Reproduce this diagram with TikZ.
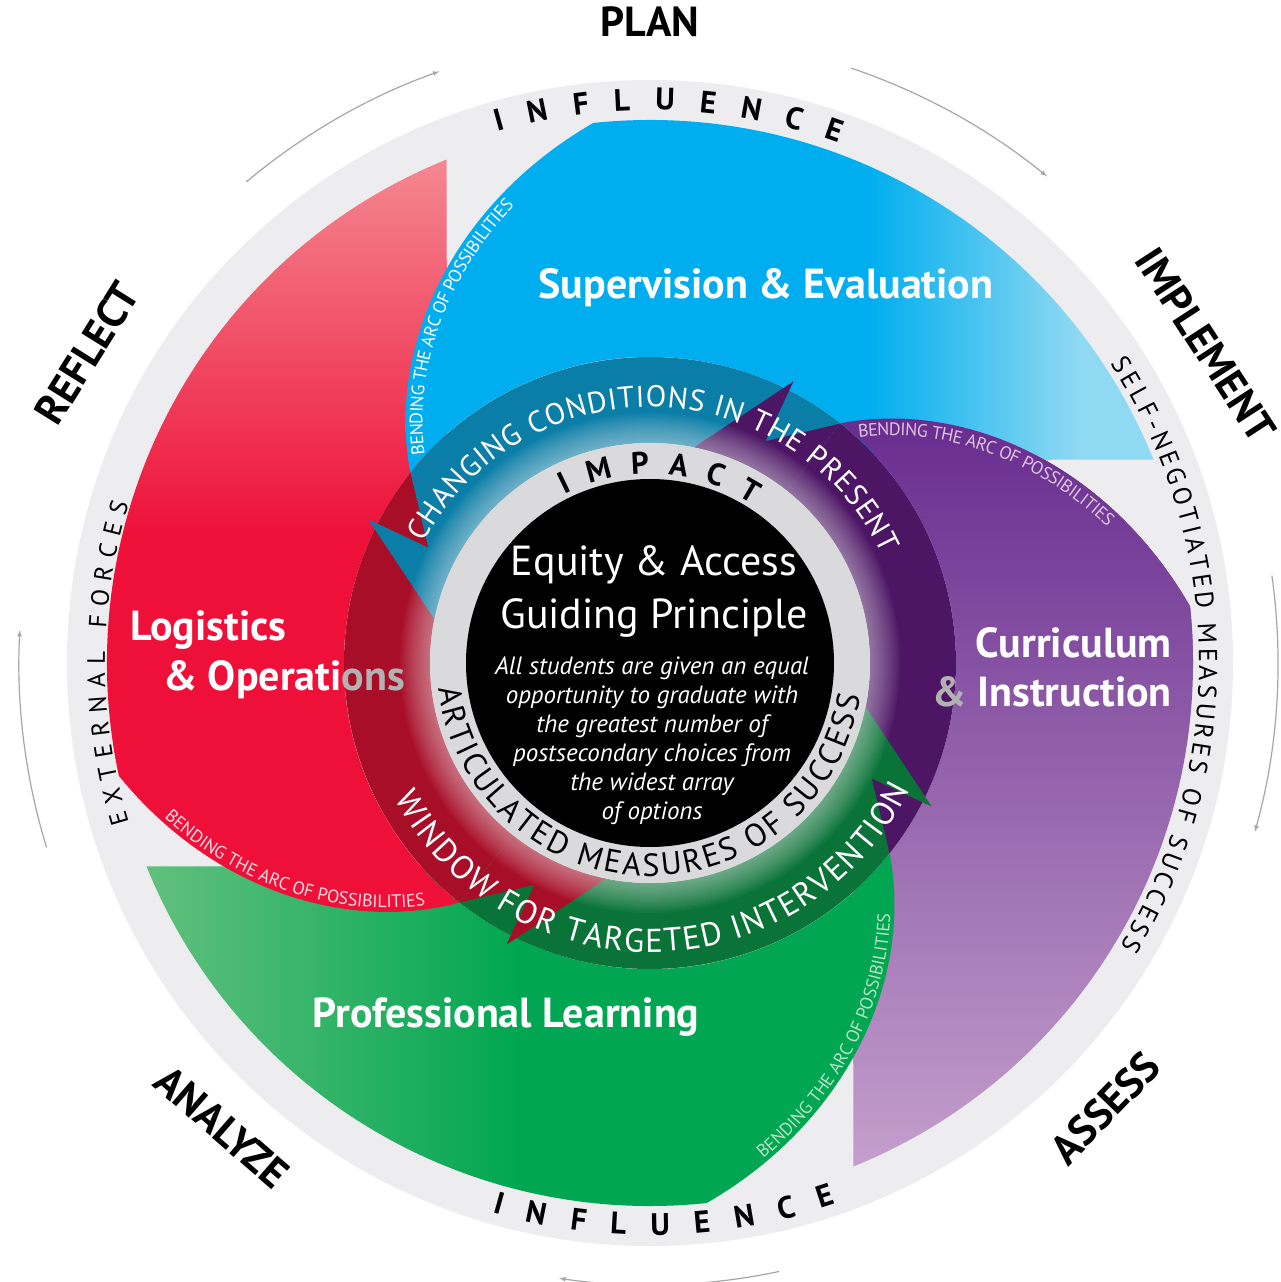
\documentclass[tikz,border=0pt]{standalone}
\usepackage{fontspec}
\setmainfont{PT Sans}
\usetikzlibrary{decorations.text}

\definecolor{ringgray}{HTML}{EDEDEF}
\definecolor{centergray}{HTML}{DADADC}
\definecolor{arrowgray}{HTML}{A6A6A6}
\definecolor{bluemain}{HTML}{00AEEF}
\definecolor{bluelight}{HTML}{90D9F2}
\definecolor{bluedark}{HTML}{0B7EA8}
\definecolor{redmain}{HTML}{EE1039}
\definecolor{redlight}{HTML}{F48891}
\definecolor{reddark}{HTML}{A80E27}
\definecolor{greenmain}{HTML}{00A651}
\definecolor{greenlight}{HTML}{62C07E}
\definecolor{greendark}{HTML}{0A7438}
\definecolor{purplemain}{HTML}{682C8F}
\definecolor{purplelight}{HTML}{C49FCC}
\definecolor{purpledark}{HTML}{4C1665}

\pgfdeclarehorizontalshading{bluefade}{100bp}{color(0bp)=(bluemain); color(56bp)=(bluemain); color(70bp)=(bluelight); color(100bp)=(bluelight)}

\newcommand{\bendfont}{\fontsize{18}{18}\selectfont}

\tikzset{
  phase/.style={font=\fontsize{42}{42}\selectfont\bfseries, inner sep=0pt},
  area/.style={text=white, font=\fontsize{42}{42}\selectfont\bfseries, inner sep=0pt},
  headline/.style={text=white, font=\fontsize{42}{42}\selectfont, inner sep=0pt},
  motto/.style={text=white, font=\fontsize{25}{29}\selectfont\itshape, align=center, inner sep=0pt},
  loop arrow/.style={arrowgray, line width=1.2pt, ->},
}

\begin{document}
\begin{tikzpicture}[x=1pt,y=1pt,>=latex,
  declare function={arcr(\t)=543-4.2*\t-0.022*\t*\t;}]
\fill[white] (-650,-619) rectangle (630,663);
\useasboundingbox (-650,-619) rectangle (630,663);

% light disc behind everything
\fill[ringgray] (0,0) circle[radius=583pt];

% the four areas (purple, green, red, blue)
\shade[top color=purplemain, bottom color=purplelight] (292:543) arc[start angle=292, end angle=366, radius=543pt]
  -- plot[variable=\t, domain=0:45.5, samples=30, smooth] ({366+\t}:{arcr(\t)})
  arc[start angle=51.5, end angle=-48.5, radius=306pt] -- cycle;
\shade[left color=greenlight, right color=greenmain, middle color=greenmain] (202:543) arc[start angle=202, end angle=276, radius=543pt]
  -- plot[variable=\t, domain=0:45.5, samples=30, smooth] ({276+\t}:{arcr(\t)})
  arc[start angle=321.5, end angle=221.5, radius=306pt] -- cycle;
\shade[top color=redlight, bottom color=redmain, middle color=redmain] (112:543) arc[start angle=112, end angle=192, radius=543pt]
  -- plot[variable=\t, domain=0:45.5, samples=30, smooth] ({192+\t*39.5/45.5}:{arcr(\t)})
  arc[start angle=231.5, end angle=131.5, radius=306pt] -- cycle;
\shade[shading=bluefade] (22:543) arc[start angle=22, end angle=96, radius=543pt]
  -- plot[variable=\t, domain=0:45.5, samples=30, smooth] ({96+\t}:{arcr(\t)})
  arc[start angle=141.5, end angle=41.5, radius=306pt] -- cycle;
% purple lies over blue on the upper side
\begin{scope}
\clip (-650,0) rectangle (630,663);
\shade[top color=purplemain, bottom color=purplelight] (292:543) arc[start angle=292, end angle=366, radius=543pt]
  -- plot[variable=\t, domain=0:45.5, samples=30, smooth] ({366+\t}:{arcr(\t)})
  arc[start angle=51.5, end angle=-48.5, radius=306pt] -- cycle;
\end{scope}

% middle ring: bodies, then the barbed heads
\foreach \c/\a in {bluedark/152.5, reddark/242.5, greendark/332.5, purpledark/62.5}
  \fill[\c] ({\a-101}:220) arc[start angle=\a-101, end angle=\a-11, radius=220pt]
    -- ({\a-11}:306) arc[start angle=\a-11, end angle=\a-101, radius=306pt] -- cycle;
\foreach \c/\a in {bluedark/152.5, reddark/242.5, greendark/332.5, purpledark/62.5}
  \fill[\c] ({\a-11}:306) -- (\a:250) -- ({\a+0.5}:316) -- ({\a+16}:220)
    arc[start angle=\a+16, end angle=\a-11, radius=220pt] -- cycle;

% glow and centre
\foreach \r in {250,248,...,222}
  \fill[white, opacity=0.035] (0,0) circle[radius=\r pt];
\fill[centergray] (0,0) circle[radius=220pt];
\fill[black] (0,0) circle[radius=184pt];

\node[headline] (equity) at (4,98) {Equity \& Access};
\node[headline] (guiding) at (4,45) {Guiding Principle};
\node[motto] (principle) at (2,-78) {All students are given an equal\\opportunity to graduate with\\the greatest number of\\postsecondary choices from\\the widest array\\of options};

% ring texts
\path[decorate, decoration={text along path, text align={fit to path},
  text={|\fontsize{31}{31}\selectfont\bfseries|IMPACT}}]
  (117:189) arc[start angle=117, end angle=57, radius=189pt];
\path[decorate, decoration={text along path, text align={fit to path},
  text={|\fontsize{32}{32}\selectfont|ARTICULATED MEASURES OF SUCCESS}}]
  (187:213) arc[start angle=187, end angle=351, radius=213pt];
\path[decorate, decoration={text along path, text align={fit to path}, text color=white,
  text={|\fontsize{30}{30}\selectfont|CHANGING CONDITIONS IN THE PRESENT}}]
  (152:256) arc[start angle=152, end angle=25, radius=256pt];
\path[decorate, decoration={text along path, text align={fit to path}, text color=white,
  text={|\fontsize{33}{33}\selectfont|WINDOW FOR TARGETED INTERVENTION}}]
  (208:289) arc[start angle=208, end angle=334, radius=289pt];

% bending texts
\path[decorate, decoration={text along path, raise=-17pt, text align={left indent=4pt}, text color=white,
  text={|\bendfont|BENDING THE ARC OF POSSIBILITIES}}]
  plot[variable=\t, domain=0:42, samples=30, smooth] ({140-\t}:{arcr(44-\t)});
\path[decorate, decoration={text along path, raise=-17pt, text align={left indent=4pt}, text color=purplelight!60!white,
  text={|\bendfont|BENDING THE ARC OF POSSIBILITIES}}]
  plot[variable=\t, domain=0:42, samples=30, smooth] ({50-\t}:{arcr(44-\t)});
\path[decorate, decoration={text along path, raise=4pt, text align={left indent=62pt}, text color=redlight!30!white,
  text={|\bendfont|BENDING THE ARC OF POSSIBILITIES}}]
  plot[variable=\t, domain=0:45.5, samples=30, smooth] ({192+\t*39.5/45.5}:{arcr(\t)});
\path[decorate, decoration={text along path, raise=4pt, text align={left indent=72pt}, text color=greenlight!45!white,
  text={|\bendfont|BENDING THE ARC OF POSSIBILITIES}}]
  plot[variable=\t, domain=0:45.5, samples=30, smooth] ({276+\t}:{arcr(\t)});

% area labels
\node[area] (supervision) at (116,375) {Supervision \& Evaluation};
\node[area, anchor=west] (logistics) at (-520,33) {Logistics};
\node[area, anchor=west] (operations) at (-487,-17) {\& Operati\textcolor{gray!60}{ons}};
\node[area, anchor=east] (curriculum) at (522,20) {Curriculum};
\node[area, anchor=east] (instruction) at (522,-29) {\textcolor{gray!60}{\&} Instruction};
\node[area] (learning) at (-144,-354) {Professional Learning};

% outer ring texts
\path[decorate, decoration={text along path, text align={fit to path},
  text={|\fontsize{31}{31}\selectfont\bfseries|INFLUENCE}}]
  (106:553) arc[start angle=106, end angle=70, radius=553pt];
\path[decorate, decoration={text along path, text align={fit to path},
  text={|\fontsize{31}{31}\selectfont\bfseries|INFLUENCE}}]
  (254:572) arc[start angle=254, end angle=289, radius=572pt];
\path[decorate, decoration={text along path, text align={fit to path},
  text={|\fontsize{25}{25}\selectfont|EXTERNAL FORCES}}]
  (197:545) arc[start angle=197, end angle=163, radius=545pt];
\path[decorate, decoration={text along path, text align={fit to path},
  text={|\fontsize{26}{26}\selectfont|SELF-NEGOTIATED MEASURES OF SUCCESS}}]
  (33:549) arc[start angle=33, end angle=-31, radius=549pt];

% phases
\node[phase] (plan) at (0,641) {PLAN};
\node[phase, rotate=-57] (implement) at (556,318) {IMPLEMENT};
\node[phase, rotate=46] (assess) at (455,-445) {ASSESS};
\node[phase, rotate=-41] (analyze) at (-428,-464) {ANALYZE};
\node[phase, rotate=58] (reflect) at (-563,310) {REFLECT};

% cycle arrows
\draw[loop arrow] (130:628) arc[start angle=130, end angle=109.6, radius=628pt];
\draw[loop arrow] (71.3:628) arc[start angle=71.3, end angle=50.8, radius=628pt];
\draw[loop arrow] (8:628) arc[start angle=8, end angle=-15.6, radius=628pt];
\draw[loop arrow] (282:622) arc[start angle=282, end angle=261.6, radius=622pt];
\draw[loop arrow] (197:631) arc[start angle=197, end angle=177, radius=631pt];
\end{tikzpicture}
\end{document}
